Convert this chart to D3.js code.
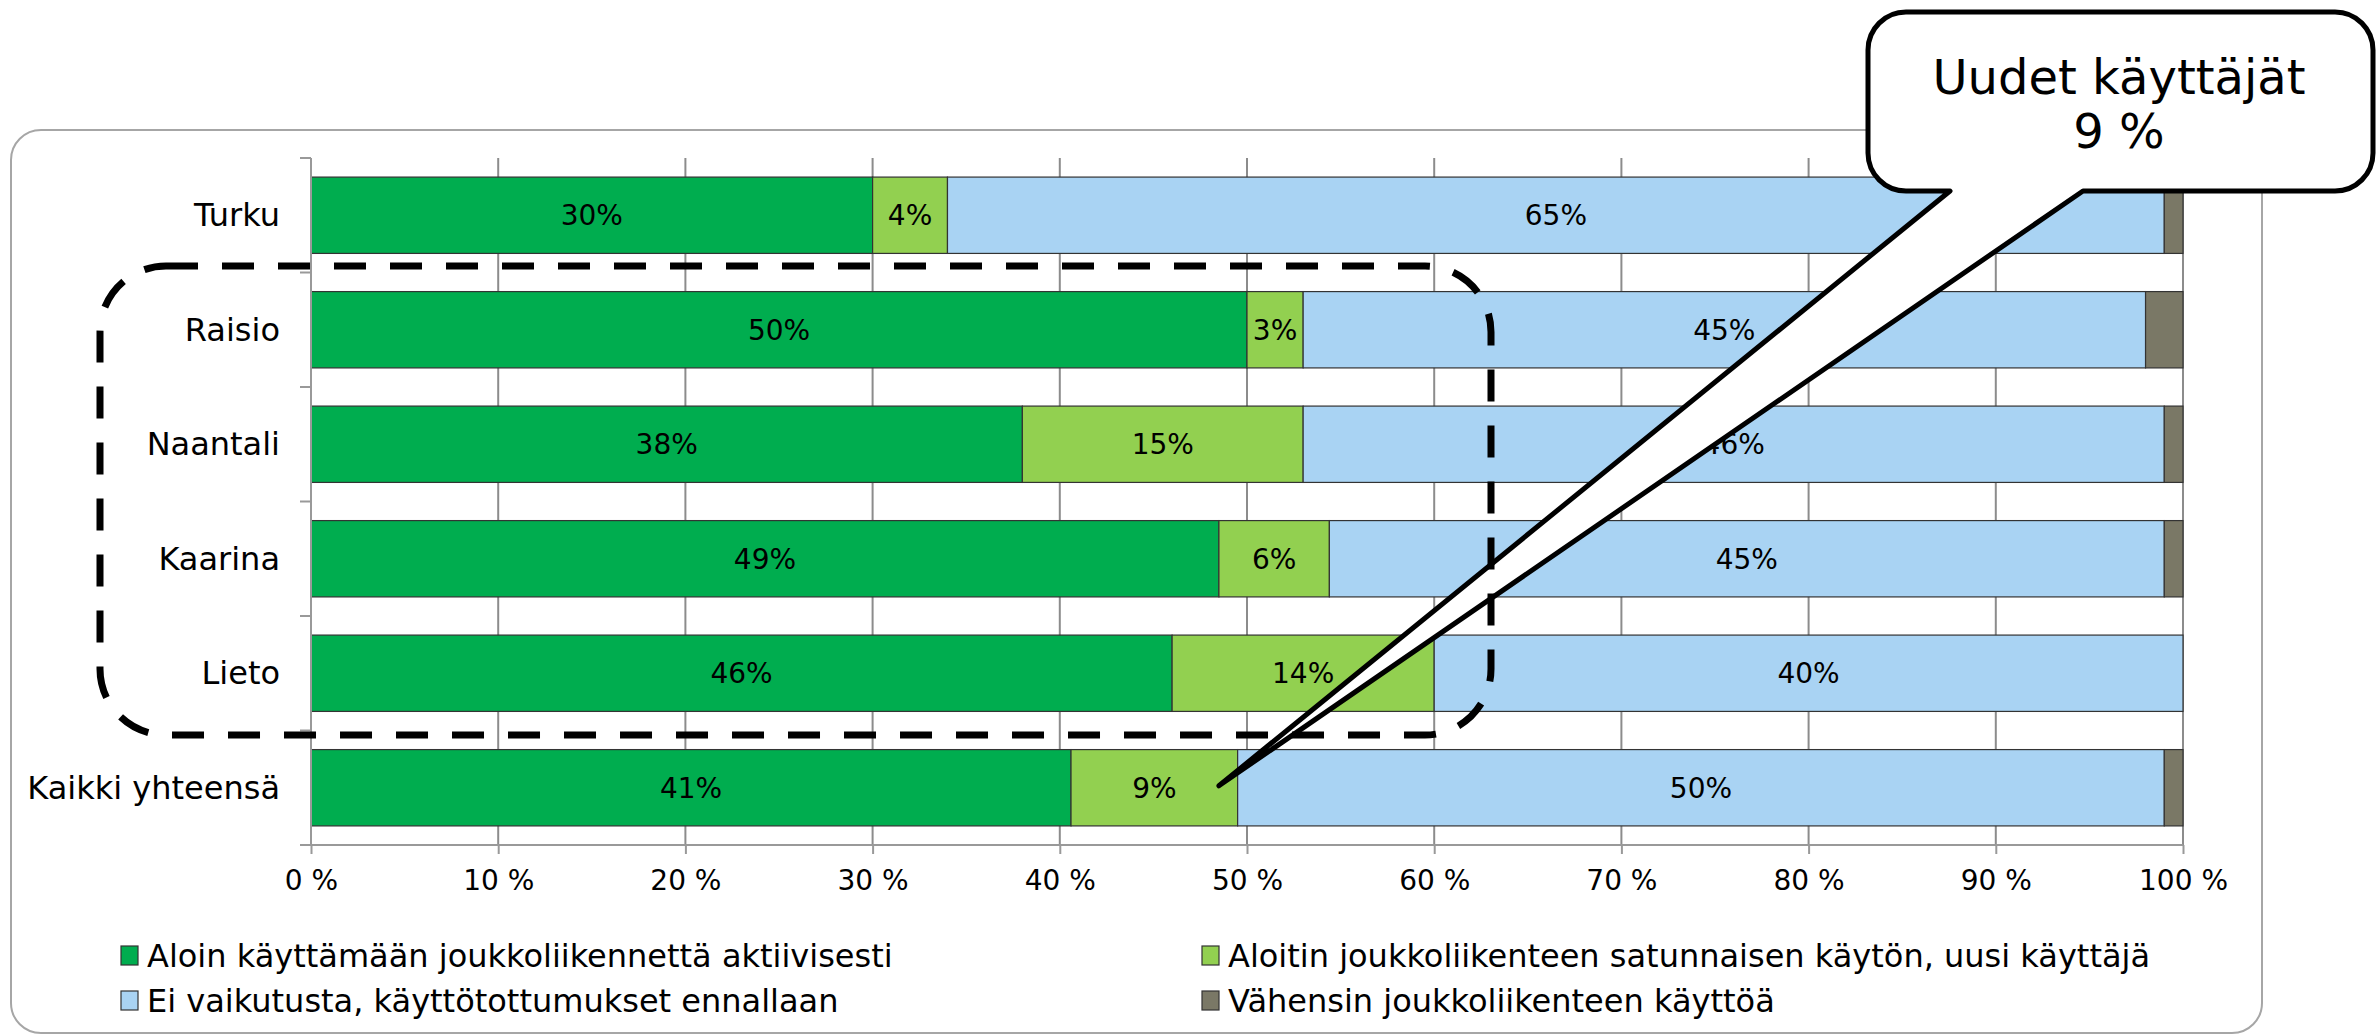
<!DOCTYPE html>
<html>
<head>
<meta charset="utf-8">
<script src="https://cdn.jsdelivr.net/npm/d3@7"></script>
<style>
  html, body { margin: 0; padding: 0; background: #fff; }
  svg { display: block; font-family: 'DejaVu Sans', sans-serif; }
</style>
</head>
<body>
<svg id="chart" width="2377" height="1034"></svg>
<script>
const categories = ['Turku', 'Raisio', 'Naantali', 'Kaarina', 'Lieto', 'Kaikki yhteensä'];
const seriesNames = [
  'Aloin käyttämään joukkoliikennettä aktiivisesti',
  'Aloitin joukkoliikenteen satunnaisen käytön, uusi käyttäjä',
  'Ei vaikutusta, käyttötottumukset ennallaan',
  'Vähensin joukkoliikenteen käyttöä'
];
const activeValues     = [30, 50, 38, 48.5, 46, 40.6];
const occasionalValues = [4, 3, 15, 5.9, 14, 8.9];
const noEffectValues   = [65, 45, 46, 44.6, 40, 49.5];
const reducedValues    = [1, 2, 1, 1, 0, 1];
const tickValues = [0, 10, 20, 30, 40, 50, 60, 70, 80, 90, 100];
const calloutLines = ['Uudet käyttäjät', '9 %'];

const colors = ['#00ad4f', '#92d050', '#a9d3f3', '#7a7866'];

const svg = d3.select('#chart');

// outer chart frame
svg.append('rect')
  .attr('x', 11).attr('y', 130)
  .attr('width', 2251).attr('height', 903)
  .attr('rx', 30)
  .attr('fill', 'none')
  .attr('stroke', '#a6a6a6')
  .attr('stroke-width', 2);

const x = d3.scaleLinear().domain([0, 100]).range([311, 2183]);
const y = d3.scaleBand()
  .domain(categories)
  .range([158, 845])
  .paddingInner(1 / 3)
  .paddingOuter(1 / 6);

// gridlines
svg.append('g')
  .selectAll('line')
  .data(tickValues)
  .enter()
  .append('line')
  .attr('x1', d => x(d)).attr('x2', d => x(d))
  .attr('y1', 158).attr('y2', 845)
  .attr('stroke', '#8c8c8c')
  .attr('stroke-width', 2);

// stack the data
const rows = categories.map((c, i) => ({
  category: c,
  s0: activeValues[i], s1: occasionalValues[i], s2: noEffectValues[i], s3: reducedValues[i]
}));
const stack = d3.stack().keys(['s0', 's1', 's2', 's3']);
const layers = stack(rows);

const layerG = svg.append('g')
  .selectAll('g')
  .data(layers)
  .enter()
  .append('g')
  .attr('fill', (d, i) => colors[i]);

layerG.selectAll('rect')
  .data(d => d)
  .enter()
  .filter(d => d[1] - d[0] > 0)
  .append('rect')
  .attr('x', d => x(d[0]))
  .attr('y', d => y(d.data.category))
  .attr('width', d => x(d[1]) - x(d[0]))
  .attr('height', y.bandwidth())
  .attr('stroke', '#333')
  .attr('stroke-width', 1.2);

// data labels, first three series only
layerG.filter((d, i) => i < 3)
  .selectAll('text')
  .data(d => d)
  .enter()
  .append('text')
  .attr('x', d => (x(d[0]) + x(d[1])) / 2)
  .attr('y', d => y(d.data.category) + y.bandwidth() / 2 + 10)
  .attr('text-anchor', 'middle')
  .attr('font-size', 28)
  .attr('fill', '#000')
  .text(d => Math.round(d[1] - d[0]) + '%');

// left axis
const step = y.step();
const leftAxis = svg.append('g');
leftAxis.append('line')
  .attr('x1', 311).attr('x2', 311)
  .attr('y1', 158).attr('y2', 845)
  .attr('stroke', '#999').attr('stroke-width', 2);
leftAxis.selectAll('.ytick')
  .data(d3.range(categories.length + 1))
  .enter()
  .append('line')
  .attr('x1', 300).attr('x2', 311)
  .attr('y1', k => 158 + k * step).attr('y2', k => 158 + k * step)
  .attr('stroke', '#999').attr('stroke-width', 2);
leftAxis.selectAll('text')
  .data(categories)
  .enter()
  .append('text')
  .attr('x', 280)
  .attr('y', d => y(d) + y.bandwidth() / 2 + 11)
  .attr('text-anchor', 'end')
  .attr('font-size', 32)
  .attr('fill', '#000')
  .text(d => d);

// bottom axis
const xAxis = d3.axisBottom(x)
  .tickValues(tickValues)
  .tickSize(9)
  .tickSizeOuter(0)
  .tickPadding(16)
  .tickFormat(d => d + ' %');
const xg = svg.append('g')
  .attr('transform', 'translate(0,845)')
  .call(xAxis);
xg.select('.domain').attr('stroke', '#999').attr('stroke-width', 2).attr('d', 'M300,0H2183');
xg.selectAll('.tick line').attr('stroke', '#999').attr('stroke-width', 2);
xg.selectAll('.tick text')
  .attr('font-family', "'DejaVu Sans', sans-serif")
  .attr('font-size', 28)
  .attr('fill', '#000');

// legend
const legendPos = [[121, 967], [1202, 967], [121, 1012], [1202, 1012]];
const legend = svg.append('g')
  .selectAll('g')
  .data(seriesNames)
  .enter()
  .append('g')
  .attr('transform', (d, i) => `translate(${legendPos[i][0]},${legendPos[i][1]})`);
legend.append('rect')
  .attr('x', 0).attr('y', -21)
  .attr('width', 17).attr('height', 19)
  .attr('fill', (d, i) => colors[i])
  .attr('stroke', '#333').attr('stroke-width', 1.2);
legend.append('text')
  .attr('x', 26).attr('y', 0)
  .attr('font-size', 32)
  .attr('fill', '#000')
  .text(d => d);

// callout
const bx0 = 1868, bx1 = 2373, by0 = 12, by1 = 191, r = 38;
const baseL = 1950, baseR = 2083;
const tipX = x(48.5);
const tipY = y('Kaikki yhteensä') + y.bandwidth() / 2 - 2;
const callout = d3.path();
callout.moveTo(bx0 + r, by0);
callout.lineTo(bx1 - r, by0);
callout.arcTo(bx1, by0, bx1, by0 + r, r);
callout.lineTo(bx1, by1 - r);
callout.arcTo(bx1, by1, bx1 - r, by1, r);
callout.lineTo(baseR, by1);
callout.lineTo(tipX, tipY);
callout.lineTo(baseL, by1);
callout.lineTo(bx0 + r, by1);
callout.arcTo(bx0, by1, bx0, by1 - r, r);
callout.lineTo(bx0, by0 + r);
callout.arcTo(bx0, by0, bx0 + r, by0, r);
callout.closePath();
svg.append('path')
  .attr('d', callout.toString())
  .attr('fill', '#fff')
  .attr('stroke', '#000')
  .attr('stroke-width', 5)
  .attr('stroke-linejoin', 'round');
svg.append('g')
  .selectAll('text')
  .data(calloutLines)
  .enter()
  .append('text')
  .attr('x', 2119)
  .attr('y', (d, i) => 94 + i * 54)
  .attr('text-anchor', 'middle')
  .attr('font-size', 48)
  .attr('fill', '#000')
  .text(d => d);

// dashed grouping frame
svg.append('rect')
  .attr('x', 100).attr('y', 266)
  .attr('width', 1391).attr('height', 469)
  .attr('rx', 66)
  .attr('fill', 'none')
  .attr('stroke', '#000')
  .attr('stroke-width', 7)
  .attr('stroke-dasharray', '32 24');
</script>
</body>
</html>
